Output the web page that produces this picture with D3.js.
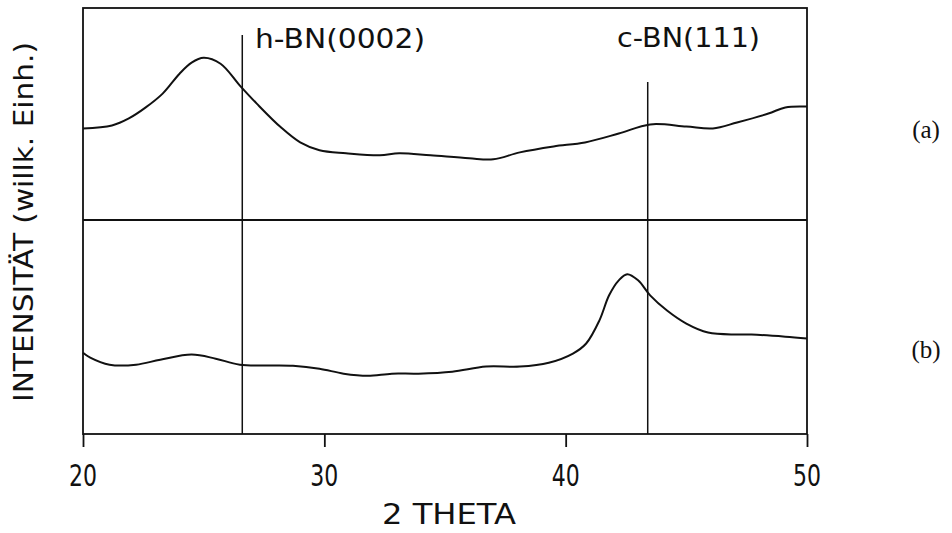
<!DOCTYPE html>
<html>
<head>
<meta charset="utf-8">
<script src="https://cdn.jsdelivr.net/npm/d3@7"></script>
<style>
  html, body { margin: 0; padding: 0; background: #fff; }
  svg { display: block; }
  text { font-family: "DejaVu Sans", sans-serif; fill: #111; }
  text.scan-label { font-family: "Liberation Serif", "DejaVu Serif", serif; }
</style>
</head>
<body>
<svg id="chart" width="952" height="533"></svg>
<script>
// X-ray diffraction scans, 2θ from 20° to 50°
const thetaA = [20, 21.2, 21.9, 22.6, 23.3, 24.0, 24.5, 25.0, 25.7, 26.5, 27.2, 28.2, 29.0, 29.8, 30.9, 32.3, 33.1, 34.4, 36.0, 37.0, 38.1, 39.5, 40.8, 42.2, 43.5, 45.0, 46.1, 47.1, 48.4, 49.1, 50.0];
const intensityA = [43.2, 44.6, 47.9, 53.1, 59.6, 69.0, 74.2, 76.5, 73.7, 63.4, 54.9, 43.7, 36.6, 32.9, 31.5, 30.5, 31.5, 30.5, 29.1, 28.6, 31.9, 34.7, 36.6, 40.8, 45.1, 44.1, 43.2, 46.0, 50.2, 53.1, 53.5];

const thetaB = [20.0, 20.3, 21.1, 22.2, 23.2, 24.5, 25.5, 26.5, 28.7, 29.8, 30.8, 31.8, 32.8, 33.9, 35.3, 36.7, 38.1, 39.3, 40.3, 40.85, 41.4, 41.8, 42.2, 42.55, 43.0, 43.5, 44.2, 45.0, 45.9, 47.1, 47.7, 49.1, 50.0];
const intensityB = [38.0, 35.7, 32.4, 32.4, 34.7, 37.1, 35.2, 32.4, 31.9, 30.5, 28.2, 27.2, 28.2, 28.2, 29.1, 31.5, 31.5, 33.3, 37.6, 42.3, 53.1, 64.8, 71.8, 74.7, 71.8, 64.8, 57.7, 51.6, 47.4, 46.5, 46.5, 45.5, 44.6];

const xTicks = [20, 30, 40, 50];
const refLines = [
  { theta: 26.6, label: "h-BN(0002)" },
  { theta: 43.4, label: "c-BN(111)" }
];
const panelLabels = ["(a)", "(b)"];

const svg = d3.select("#chart");
const plotLeft = 83, plotRight = 807, plotTop = 8, plotMid = 220, plotBottom = 434;

const x = d3.scaleLinear().domain([20, 50]).range([plotLeft, plotRight]);
const yA = d3.scaleLinear().domain([0, 100]).range([plotMid, plotTop]);
const yB = d3.scaleLinear().domain([0, 100]).range([plotBottom, plotMid]);

// Frame and divider between the two scans
svg.append("rect")
  .attr("x", plotLeft).attr("y", plotTop)
  .attr("width", plotRight - plotLeft).attr("height", plotBottom - plotTop)
  .attr("fill", "none").attr("stroke", "#111").attr("stroke-width", 1.8);
svg.append("line")
  .attr("x1", plotLeft).attr("x2", plotRight).attr("y1", plotMid).attr("y2", plotMid)
  .attr("stroke", "#111").attr("stroke-width", 1.8);

// Bottom axis with outward ticks
const xAxis = d3.axisBottom(x).tickValues(xTicks).tickSize(13).tickFormat("");
const gx = svg.append("g").attr("transform", `translate(0,${plotBottom})`).call(xAxis);
gx.select(".domain").remove();
gx.selectAll(".tick line").attr("stroke", "#111").attr("stroke-width", 1.8);

svg.append("g").selectAll("text")
  .data(xTicks)
  .join("text")
  .attr("x", d => x(d))
  .attr("y", 486)
  .attr("text-anchor", "middle")
  .attr("font-size", 31)
  .attr("textLength", 28)
  .attr("lengthAdjust", "spacingAndGlyphs")
  .text(d => d);

// Axis titles
svg.append("text")
  .attr("x", 449).attr("y", 524)
  .attr("text-anchor", "middle")
  .attr("font-size", 28)
  .attr("textLength", 134)
  .attr("lengthAdjust", "spacingAndGlyphs")
  .text("2 THETA");

svg.append("text")
  .attr("transform", "translate(33,222) rotate(-90)")
  .attr("text-anchor", "middle")
  .attr("font-size", 27)
  .attr("textLength", 360)
  .attr("lengthAdjust", "spacingAndGlyphs")
  .text("INTENSITÄT (willk. Einh.)");

// Reference reflections
const refTop = [35, 82];
const labelSpan = [[255, 170, 48], [617, 143, 47]];
refLines.forEach((r, i) => {
  svg.append("line")
    .attr("x1", x(r.theta)).attr("x2", x(r.theta))
    .attr("y1", refTop[i]).attr("y2", plotBottom)
    .attr("stroke", "#111").attr("stroke-width", 1.5);
  svg.append("text")
    .attr("x", labelSpan[i][0]).attr("y", labelSpan[i][2])
    .attr("font-size", 26)
    .attr("textLength", labelSpan[i][1])
    .attr("lengthAdjust", "spacingAndGlyphs")
    .text(r.label);
});

// Diffraction curves
const lineA = d3.line().x(d => x(d[0])).y(d => yA(d[1])).curve(d3.curveCatmullRom.alpha(0.5));
const lineB = d3.line().x(d => x(d[0])).y(d => yB(d[1])).curve(d3.curveCatmullRom.alpha(0.5));

svg.append("path")
  .datum(d3.zip(thetaA, intensityA))
  .attr("d", lineA)
  .attr("fill", "none").attr("stroke", "#111").attr("stroke-width", 2);
svg.append("path")
  .datum(d3.zip(thetaB, intensityB))
  .attr("d", lineB)
  .attr("fill", "none").attr("stroke", "#111").attr("stroke-width", 2);

// Scan labels
svg.append("g").selectAll("text")
  .data(panelLabels)
  .join("text")
  .attr("class", "scan-label")
  .attr("x", 926)
  .attr("y", (d, i) => [138, 358][i])
  .attr("text-anchor", "middle")
  .attr("font-size", 25)
  .text(d => d);
</script>
</body>
</html>
